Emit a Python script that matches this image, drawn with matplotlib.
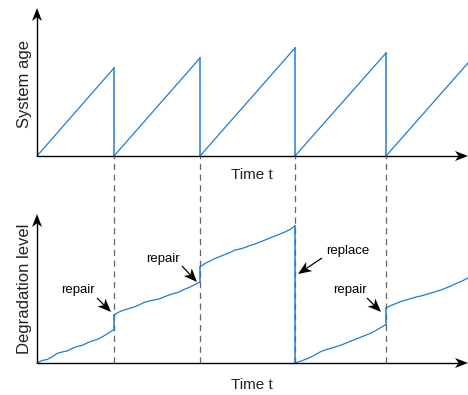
import matplotlib.pyplot as plt
import numpy as np

plt.rcParams['font.family'] = ['Liberation Sans', 'DejaVu Sans']

# maintenance instants (time units) and end of the horizon
events = [7.7, 16.3, 25.8, 34.9]
t_end = 43.1
event_kind = ['repair', 'repair', 'replace', 'repair']

# system age reached just before each event, and at the end
age_peaks = [8.8, 9.8, 10.8, 10.3, 9.3]

# degradation path, one piece per interval between events
seg_t = [
    [0, 0.5, 1.0, 1.5, 2.0, 2.5, 3.0, 3.5, 4.0, 4.5, 5.0, 5.5, 6.0, 6.5, 7.0, 7.7],
    [7.7, 8.2, 8.7, 9.2, 9.7, 10.2, 10.7, 11.2, 11.7, 12.2, 12.7, 13.2, 13.7,
     14.2, 14.7, 15.2, 15.7, 16.3],
    [16.3, 16.8, 17.3, 17.8, 18.3, 18.8, 19.3, 19.8, 20.3, 20.8, 21.3, 21.8,
     22.3, 22.8, 23.3, 23.8, 24.3, 24.8, 25.3, 25.8],
    [25.8, 26.3, 26.8, 27.3, 27.8, 28.3, 28.8, 29.3, 29.8, 30.3, 30.8, 31.3,
     31.8, 32.3, 32.8, 33.3, 33.8, 34.3, 34.9],
    [34.9, 35.4, 35.9, 36.4, 36.9, 37.4, 37.9, 38.4, 38.9, 39.4, 39.9, 40.4,
     40.9, 41.4, 41.9, 42.4, 43.1],
]
seg_d = [
    [0, 0.25, 0.35, 0.6, 0.95, 1.1, 1.2, 1.45, 1.65, 1.75, 2.0, 2.2, 2.35, 2.6, 2.9, 3.35],
    [4.8, 5.1, 5.3, 5.45, 5.6, 5.8, 6.05, 6.2, 6.3, 6.4, 6.6, 6.8, 6.95, 7.1,
     7.35, 7.55, 7.8, 8.1],
    [9.6, 9.95, 10.2, 10.45, 10.65, 10.85, 11.05, 11.3, 11.4, 11.55, 11.75, 11.9,
     12.1, 12.3, 12.5, 12.7, 12.9, 13.1, 13.35, 13.7],
    [0, 0.15, 0.35, 0.55, 0.8, 1.1, 1.3, 1.45, 1.6, 1.75, 1.95, 2.15, 2.35,
     2.55, 2.75, 2.95, 3.2, 3.5, 3.85],
    [5.5, 5.75, 5.95, 6.15, 6.3, 6.45, 6.6, 6.7, 6.85, 7.0, 7.15, 7.3, 7.5,
     7.7, 7.95, 8.15, 8.5],
]

# callouts: (text x, text y, tail x, tail y, tip x, tip y)
callouts = [
    (4.1, 7.3, 6.0, 6.5, 7.4, 5.1),
    (12.6, 10.4, 14.5, 9.7, 16.0, 8.1),
    (31.1, 11.2, 28.5, 10.5, 26.1, 8.9),
    (31.3, 7.3, 33.0, 6.5, 34.4, 5.1),
]

blue = '#1f7dd0'


def stealth(ax, tail, tip, length=1.3, width=0.5, lw=1.0):
    # line with a concave arrowhead, data units are equal on both axes
    tail = np.array(tail, float)
    tip = np.array(tip, float)
    u = (tip - tail) / np.hypot(*(tip - tail))
    n = np.array([-u[1], u[0]])
    notch = tip - 0.72 * length * u
    ax.plot([tail[0], notch[0]], [tail[1], notch[1]], color='black', lw=lw,
            clip_on=False, solid_capstyle='butt')
    head = [tip, tip - length * u + width * n, notch, tip - length * u - width * n]
    ax.add_patch(plt.Polygon(head, closed=True, color='black', lw=0, clip_on=False))


fig = plt.figure(figsize=(4.68, 3.95), dpi=100)
ax1 = fig.add_axes([37 / 468, 239 / 395, 431 / 468, 148 / 395])
ax2 = fig.add_axes([37 / 468, 32 / 395, 431 / 468, 149 / 395])
ax1.set_xlim(0, t_end)
ax1.set_ylim(0, 14.8)
ax2.set_xlim(0, t_end)
ax2.set_ylim(0, 14.9)
for ax in (ax1, ax2):
    ax.axis('off')

# sawtooth of system age
starts = [0] + events
ends = events + [t_end]
for i, (a, b) in enumerate(zip(starts, ends)):
    ax1.plot([a, b], [0, age_peaks[i]], color=blue, lw=0.9, clip_on=False)
    if i < len(events):
        ax1.plot([b, b], [age_peaks[i], 0], color=blue, lw=1.1)

# degradation path with jumps at the events
for i in range(len(seg_t)):
    ax2.plot(seg_t[i], seg_d[i], color=blue, lw=0.9, clip_on=False)
    if i < len(events):
        ax2.plot([events[i], events[i]], [seg_d[i][-1], seg_d[i + 1][0]],
                 color=blue, lw=1.1)

# dashed guides from the upper time axis down to the lower one
for t in events:
    ax2.plot([t, t], [0, 20.7], color='#666666', lw=0.9, dashes=(5, 3.6),
             clip_on=False, zorder=0)

# axes with arrowheads
stealth(ax1, (0, 0), (0, 14.8))
stealth(ax1, (0, 0), (t_end, 0))
stealth(ax2, (0, 0), (0, 14.9))
stealth(ax2, (0, 0), (t_end, 0))

for (tx, ty, ax_, ay, bx, by), kind in zip(callouts, event_kind):
    ax2.text(tx, ty, kind, fontsize=9.5, ha='center', va='center')
    stealth(ax2, (ax_, ay), (bx, by), length=1.35, width=0.55, lw=0.9)

fig.text(25 / 468, 1 - 84 / 395, 'System age', rotation=90, fontsize=12,
         ha='center', va='center', color='#222222')
fig.text(25 / 468, 1 - 289 / 395, 'Degradation level', rotation=90, fontsize=12,
         ha='center', va='center', color='#222222')
fig.text(252 / 468, 1 - 175 / 395, 'Time t', fontsize=11, ha='center', va='center',
         color='#222222')
fig.text(252 / 468, 1 - 385 / 395, 'Time t', fontsize=11, ha='center', va='center',
         color='#222222')

fig.savefig('out.png', dpi=100)
